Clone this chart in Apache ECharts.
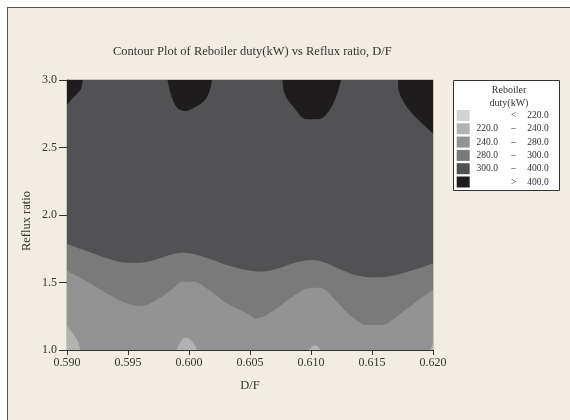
<!DOCTYPE html>
<html>
<head>
<meta charset="utf-8">
<script src="https://cdn.jsdelivr.net/npm/echarts@6/dist/echarts.min.js"></script>
<style>
    body { margin: 0; background: #ffffff; }
    #frame {
        position: absolute; left: 7px; top: 7px; width: 563px; height: 413px;
        background: #f1ede3; border-left: 1px solid #555; border-top: 1px solid #555;
    }
    #chart { position: absolute; left: 0; top: 0; width: 570px; height: 420px; }
</style>
</head>
<body>
<div id="frame"></div>
<div id="chart"></div>
<script>
// Contour levels, legend rows and fill colours
const bandNames = ['<220', '220-240', '240-280', '280-300', '300-400', '>400'];
const bandColors = ['#d3d3d3', '#b2b2b2', '#939393', '#7a7a7a', '#525254', '#1e1c1d'];
const legendLow = ['', '220.0', '240.0', '280.0', '300.0', ''];
const legendSym = ['<', '\u2013', '\u2013', '\u2013', '\u2013', '>'];
const legendHigh = ['220.0', '240.0', '280.0', '300.0', '400.0', '400.0'];

// Whole plot is 300-400 unless covered
const base300 = [[0.590, 3.0], [0.620, 3.0]];

// Upper edge of the 280-300 band (D/F, reflux ratio)
const edge280 = [
    [0.5900, 1.785], [0.59213, 1.716], [0.59351, 1.672], [0.59488, 1.647], [0.59597, 1.647],
    [0.59734, 1.672], [0.59870, 1.711], [0.59952, 1.721], [0.60034, 1.711], [0.60172, 1.674],
    [0.60309, 1.630], [0.60500, 1.588], [0.60596, 1.580], [0.60733, 1.605], [0.60870, 1.647],
    [0.61006, 1.667], [0.61116, 1.647], [0.61253, 1.593], [0.61389, 1.550], [0.61553, 1.538],
    [0.61718, 1.561], [0.61882, 1.605], [0.62000, 1.643]
];

// Upper edge of the 240-280 band
const edge240 = [
    [0.5900, 1.588], [0.59213, 1.481], [0.59351, 1.407], [0.59488, 1.346], [0.59597, 1.326],
    [0.59734, 1.370], [0.59870, 1.457], [0.59952, 1.506], [0.60034, 1.506], [0.60144, 1.457],
    [0.60309, 1.346], [0.60500, 1.259], [0.60541, 1.235], [0.60678, 1.284], [0.60870, 1.407],
    [0.61006, 1.462], [0.61088, 1.457], [0.61198, 1.370], [0.61335, 1.247], [0.61471, 1.185],
    [0.61581, 1.185], [0.61718, 1.259], [0.61882, 1.370], [0.62000, 1.446]
];

// 220-240 patches along the bottom
const patches220 = [
    [[0.5900, 1.178], [0.59049, 1.123], [0.59090, 1.062], [0.59110, 1.0]],
    [[0.59898, 1.0], [0.59940, 1.074], [0.59975, 1.091], [0.60021, 1.069], [0.60067, 1.0]],
    [[0.60979, 1.0], [0.61034, 1.037], [0.61080, 1.0]],
    [[0.61978, 1.0], [0.62000, 1.050]]
];

// >400 blobs hanging from the top
const blobs400 = [
    [[0.5900, 2.815], [0.59050, 2.870], [0.59110, 2.926], [0.59130, 3.0]],
    [[0.59824, 3.0], [0.59850, 2.900], [0.59898, 2.800], [0.59966, 2.770], [0.60034, 2.790],
     [0.60130, 2.852], [0.60172, 2.926], [0.60188, 3.0]],
    [[0.60768, 3.0], [0.60782, 2.901], [0.60856, 2.800], [0.60965, 2.709], [0.61061, 2.709],
     [0.61143, 2.765], [0.61212, 2.889], [0.61245, 3.0]],
    [[0.61713, 3.0], [0.61718, 2.926], [0.61786, 2.800], [0.61896, 2.691], [0.62000, 2.605]]
];

const serif = "'Liberation Serif', 'Times New Roman', serif";
const textColor = '#333333';

function bandSeries(name, data, origin, smooth) {
    const color = bandColors[bandNames.indexOf(name)];
    return {
        name: name,
        type: 'line',
        data: data,
        smooth: smooth,
        symbol: 'none',
        silent: true,
        itemStyle: { color: color },
        lineStyle: { width: 0, opacity: 0 },
        areaStyle: { color: color, opacity: 1, origin: origin }
    };
}

const series = [
    bandSeries('<220', [], 'start', false),
    bandSeries('300-400', base300, 'start', false),
    bandSeries('280-300', edge280, 'start', 0.4),
    bandSeries('240-280', edge240, 'start', 0.4)
];
patches220.forEach((p) => series.push(bandSeries('220-240', p, 'start', 0.4)));
blobs400.forEach((b) => series.push(bandSeries('>400', b, 'end', 0.35)));

const chart = echarts.init(document.querySelector('#chart'));
chart.setOption({
    animation: false,
    title: {
        text: 'Contour Plot of Reboiler duty(kW) vs Reflux ratio, D/F',
        left: 113,
        top: 45,
        padding: 0,
        textStyle: { fontFamily: serif, fontSize: 12.5, fontWeight: 'normal', color: textColor }
    },
    grid: { left: 67, right: 137, top: 80, bottom: 70, show: true, borderColor: '#9a9a9a', borderWidth: 1 },
    xAxis: {
        type: 'value',
        min: 0.590,
        max: 0.620,
        interval: 0.005,
        name: 'D/F',
        nameLocation: 'middle',
        nameGap: 29,
        nameMoveOverlap: false,
        nameTextStyle: { fontFamily: serif, fontSize: 12.5, color: textColor },
        axisLine: { lineStyle: { color: '#333', width: 1 } },
        axisTick: { length: 5, lineStyle: { color: '#333' } },
        axisLabel: {
            margin: 7, fontFamily: serif, fontSize: 12, color: textColor,
            formatter: (v) => v.toFixed(3)
        },
        splitLine: { show: false }
    },
    yAxis: {
        type: 'value',
        min: 1.0,
        max: 3.0,
        interval: 0.5,
        name: 'Reflux ratio',
        nameLocation: 'middle',
        nameGap: 34,
        nameMoveOverlap: false,
        nameTextStyle: { fontFamily: serif, fontSize: 12.5, color: textColor, padding: [0, 12, 0, 0] },
        axisLine: { show: true, lineStyle: { color: '#333', width: 1 } },
        axisTick: { show: true, length: 8, lineStyle: { color: '#333' } },
        axisLabel: {
            margin: 10, fontFamily: serif, fontSize: 12, color: textColor,
            formatter: (v) => v.toFixed(1)
        },
        splitLine: { show: false }
    },
    legend: {
        orient: 'vertical',
        left: 456.7,
        top: 110,
        padding: 0,
        itemWidth: 13,
        itemHeight: 11,
        itemGap: 2.3,
        icon: 'rect',
        selectedMode: false,
        data: bandNames.map((n, i) => ({ name: n, itemStyle: { color: bandColors[i], borderWidth: 0 } })),
        formatter: (name) => {
            const i = bandNames.indexOf(name);
            return '{a|' + legendLow[i] + '}{b|' + legendSym[i] + '}{c|' + legendHigh[i] + '}';
        },
        textStyle: {
            fontFamily: serif, fontSize: 9.5, color: textColor, lineHeight: 11,
            rich: {
                a: { width: 25, align: 'right', fontFamily: serif, fontSize: 9.5, color: textColor },
                b: { width: 28, align: 'center', fontFamily: serif, fontSize: 9.5, color: textColor },
                c: { width: 21, align: 'right', fontFamily: serif, fontSize: 9.5, color: textColor }
            }
        }
    },
    graphic: [
        {
            type: 'rect',
            z: 0,
            shape: { x: 453.5, y: 80.5, width: 106, height: 110 },
            style: { fill: '#ffffff', stroke: '#333333', lineWidth: 1 }
        },
        {
            type: 'text',
            z: 1,
            x: 509, y: 90,
            style: { text: 'Reboiler', fontFamily: serif, fontSize: 10, fill: textColor, align: 'center', verticalAlign: 'middle' }
        },
        {
            type: 'text',
            z: 1,
            x: 509, y: 103,
            style: { text: 'duty(kW)', fontFamily: serif, fontSize: 10, fill: textColor, align: 'center', verticalAlign: 'middle' }
        }
    ],
    series: series
});
</script>
</body>
</html>
